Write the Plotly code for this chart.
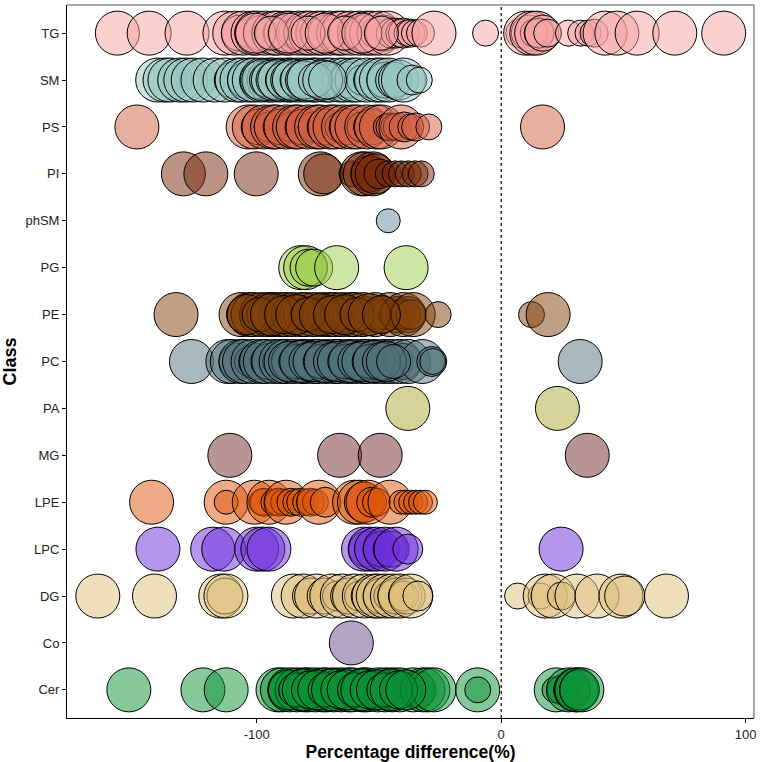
import plotly.graph_objects as go

# class order from bottom to top of the axis
classes = ["Cer", "Co", "DG", "LPC", "LPE", "MG", "PA", "PC", "PE", "PG", "phSM", "PI", "PS", "SM", "TG"]

# base fill colour per class (drawn at half alpha)
colors = {
    "TG": "#F5A1A1", "SM": "#97C5BF", "PS": "#D15F41", "PI": "#76280A",
    "phSM": "#658999", "PG": "#9BCD4B", "PE": "#813F09", "PC": "#517179",
    "PA": "#ABA731", "MG": "#71292B", "LPE": "#DD550B", "LPC": "#6B2DD9",
    "DG": "#DDBF7B", "Co": "#67498D", "Cer": "#0B9135",
}

# percentage difference values and bubble sizes
tg_x = [-157, -144, -128.5, -113,
        -109, -107, -105.5, -103, -101.5, -100, -98, -96.5, -95, -93,
        -91.5, -90, -88, -86.5, -85, -83, -81.5, -80, -78, -76.5,
        -75, -73, -71.5, -70, -68, -66.5, -65, -63, -61.5, -60,
        -58, -56.5, -55, -53, -51.5, -50, -48, -46.5, -45,
        -43, -41.5, -40, -38.5, -37, -35.5, -33, -27.5, -6.4,
        8, 10, 11.5, 12.5, 13.5, 14.5, 15.5, 17, 19,
        27.5, 32.5, 35.5, 38, 42.5, 47.3, 55.6, 71, 91,
        -100.5, -94, -87, -79, -72, -64, -57, -49]
tg_s = [44, 44, 44, 44,
        44, 36, 44, 30, 44, 44, 36, 44, 30, 44,
        44, 36, 44, 44, 30, 44, 36, 44, 44, 30,
        44, 44, 36, 44, 30, 44, 44, 36, 44, 30,
        44, 36, 44, 44, 30, 44, 36, 44, 30,
        30, 28, 30, 26, 28, 26, 28, 44, 26,
        30, 44, 36, 44, 28, 44, 30, 36, 28,
        26, 26, 26, 28, 44, 44, 44, 44, 44,
        40, 34, 40, 34, 40, 34, 40, 34]

sm_x = [-140.5, -137.5, -135.5, -131.5, -129, -126, -122, -117,
        -113, -110, -108, -106, -104.5, -103, -101, -99.5, -98, -96.5,
        -95, -93.5, -92, -90.5, -89, -87.5, -86, -84.5, -83, -81.5,
        -80, -78.5, -77, -75.5, -74, -72, -70, -68, -66, -64,
        -62.5, -61, -59, -57, -55, -53, -51, -49, -47.5, -46,
        -44, -42, -40, -36.5, -33.5,
        -99, -97.5, -96, -94, -92.5, -91, -89.5, -88, -86.5, -85,
        -83.5, -82, -80.5, -79, -76, -73, -71]
sm_s = [44, 44, 44, 44, 44, 44, 44, 44,
        44, 36, 44, 44, 36, 44, 44, 30, 44, 36,
        44, 44, 30, 44, 36, 44, 44, 36, 44, 30,
        44, 36, 44, 44, 30, 44, 44, 36, 44, 44,
        36, 44, 44, 30, 44, 36, 44, 44, 36, 44,
        36, 40, 44, 30, 26,
        38, 42, 34, 40, 38, 42, 34, 40, 38, 42,
        34, 40, 38, 42, 34, 40, 38]

ps_x = [-149,
        -103.5, -101, -99, -97, -95, -93.5, -92, -90, -88, -86,
        -84.5, -83, -81, -79, -77, -75.5, -74, -72, -70, -68,
        -66, -64.5, -63, -61, -59, -57, -55, -53, -51, -49,
        -47, -45.5, -44, -42.5, -41, -39.7, -37, -35, -29.6,
        16.9]
ps_s = [44,
        44, 44, 36, 44, 30, 44, 44, 36, 44, 30,
        44, 44, 36, 44, 30, 44, 44, 36, 44, 44,
        30, 44, 36, 44, 44, 30, 44, 36, 44, 44,
        26, 28, 26, 28, 44, 30, 26, 28, 26,
        44]

pi_x = [-130, -120.8, -100.2, -74, -72.6, -61, -57, -55.6, -54, -52.5,
        -51.5, -50, -46.2, -43.4, -40.8, -38, -35.2, -32.7]
pi_s = [44, 44, 44, 44, 40, 26, 44, 44, 36, 44,
        40, 30, 26, 26, 26, 26, 26, 26]

phsm_x = [-46.2]
phsm_s = [24]

pg_x = [-82, -80, -78.8, -76.5, -67.3, -38.9]
pg_s = [44, 44, 37, 37, 44, 44]

pe_x = [-133,
        -106.4, -105, -103, -101.5, -100, -98, -96.5, -95, -93, -91.5,
        -90, -88, -86.5, -85, -83, -81.5, -80, -78, -76.5, -75,
        -73, -71.5, -70, -68, -66.5, -65, -63, -61.5, -60, -58,
        -56.5, -55, -53, -51.5, -50, -48.5, -47, -45.5, -44, -42.5,
        -41, -40, -39, -38, -37, -36,
        -25.8, 12.4, 19.2,
        -104, -99, -94, -89, -84, -79, -74, -69, -64, -59, -54, -49]
pe_s = [44,
        44, 36, 44, 44, 30, 44, 36, 44, 44, 30,
        44, 44, 36, 44, 30, 44, 44, 36, 44, 30,
        44, 36, 44, 44, 30, 44, 36, 44, 44, 30,
        44, 36, 30, 44, 30, 36, 30, 44, 30, 36,
        30, 44, 30, 36, 30, 44,
        26, 26, 44,
        40, 34, 42, 38, 40, 34, 42, 38, 40, 34, 42, 38]

pc_x = [-126.7,
        -111.8, -110, -108, -106.5, -105, -103, -101.5, -100, -98, -96.5,
        -95, -93, -91.5, -90, -88, -86.5, -85, -83, -81.5, -80,
        -78, -76.5, -75, -73, -71.5, -70, -68, -66.5, -65, -63,
        -61.5, -60, -58, -56.5, -55, -53, -51.5, -50, -48, -46.5,
        -45, -43, -41.5, -40, -38,
        -32.3, -28.4, -28, 32.3,
        -87, -84, -82, -79, -77, -74, -72, -69, -67, -64,
        -62, -59, -57, -54, -52, -49, -47, -44]
pc_s = [44,
        44, 44, 36, 44, 44, 30, 44, 36, 44, 44,
        36, 44, 30, 44, 44, 36, 44, 30, 44, 44,
        36, 44, 44, 30, 44, 36, 44, 44, 30, 44,
        36, 44, 30, 44, 44, 36, 44, 30, 44, 36,
        44, 30, 44, 36, 44,
        44, 30, 26, 44,
        40, 34, 42, 38, 40, 34, 42, 38, 40, 34,
        42, 38, 40, 34, 42, 38, 40, 34]

pa_x = [-38.2, 23]
pa_s = [44, 44]

mg_x = [-111, -66.1, -49.5, 35.2]
mg_s = [44, 44, 44, 44]

lpe_x = [-143, -112.5, -112.5, -101, -98, -97, -95, -93, -91, -89,
         -88, -86, -84, -82, -80, -78, -76, -74.6, -72, -60,
         -58, -56, -54.5, -53, -51, -45.5, -41, -39, -37, -35,
         -33, -31]
lpe_s = [44, 44, 24, 44, 26, 28, 44, 26, 28, 26,
         44, 28, 26, 28, 26, 28, 26, 44, 30, 44,
         44, 40, 44, 30, 28, 44, 24, 24, 24, 24,
         24, 24]

lpc_x = [-140.4, -118, -113.5, -100, -97.5, -95, -56.3, -55, -53.6, -51,
         -49, -47.5, -45, -43, -38.2, 24.5]
lpc_s = [44, 44, 44, 44, 44, 44, 44, 36, 44, 44,
         36, 44, 36, 44, 30, 44]

dg_x = [-165, -141.8, -114.7, -113, -112.6,
        -85, -81, -78, -75.5, -72, -69.3, -67, -65, -62.4, -60,
        -58, -56, -54, -52, -50.3, -49, -47.5, -46, -44.5, -43,
        -41.5, -40, -38.5, -37, -34.1,
        6.7, 16.3, 18, 21.3, 24.6, 31, 39.2, 49, 50.5, 67.6]
dg_s = [44, 44, 44, 36, 44,
        44, 44, 36, 44, 36, 44, 30, 44, 36, 44,
        30, 44, 36, 44, 44, 36, 44, 30, 44, 36,
        44, 30, 36, 44, 30,
        26, 26, 44, 44, 28, 44, 44, 44, 40, 44]

co_x = [-61.3]
co_s = [44]

cer_x = [-152.3, -122, -112.5,
         -91.3, -89.5, -88, -86.5, -85, -83.5, -82, -80.5, -79, -77.5,
         -76, -74.5, -73, -71.5, -70, -68.5, -67, -65.5, -64, -62.5,
         -61, -59.5, -58, -56.5, -55, -53.5, -52, -50.5, -49, -47.5,
         -46, -44.5, -43, -41.5, -40, -38, -36, -34, -32, -30,
         -27.5,
         -9.6, -9.6,
         22.5, 22, 25, 27.5, 29, 30.5, 31, 32, 33,
         -87, -84, -81, -78, -75, -72, -69, -66, -63, -60,
         -57, -54, -51, -48, -45, -42, -39]
cer_s = [44, 44, 44,
         44, 44, 36, 44, 30, 44, 36, 44, 44, 30,
         44, 36, 44, 44, 30, 44, 36, 44, 30, 44,
         44, 36, 30, 44, 44, 30, 36, 44, 30, 44,
         36, 44, 30, 44, 36, 30, 44, 36, 44, 44,
         44,
         44, 26,
         44, 26, 30, 44, 36, 44, 44, 40, 44,
         40, 34, 42, 38, 40, 34, 42, 38, 40, 34,
         42, 38, 40, 34, 42, 38, 40]

series = {
    "TG": (tg_x, tg_s), "SM": (sm_x, sm_s), "PS": (ps_x, ps_s), "PI": (pi_x, pi_s),
    "phSM": (phsm_x, phsm_s), "PG": (pg_x, pg_s), "PE": (pe_x, pe_s), "PC": (pc_x, pc_s),
    "PA": (pa_x, pa_s), "MG": (mg_x, mg_s), "LPE": (lpe_x, lpe_s), "LPC": (lpc_x, lpc_s),
    "DG": (dg_x, dg_s), "Co": (co_x, co_s), "Cer": (cer_x, cer_s),
}


def rgba(hexcol, a):
    h = hexcol.lstrip("#")
    return "rgba(%d,%d,%d,%s)" % (int(h[0:2], 16), int(h[2:4], 16), int(h[4:6], 16), a)


fig = go.Figure()
for name in classes[::-1]:
    xs, ss = series[name]
    assert len(xs) == len(ss), name
    # opacity=1 so plotly's bubble default (0.7) doesn't grey the outlines
    fig.add_trace(go.Scatter(
        x=xs, y=[name] * len(xs), mode="markers", name=name,
        marker=dict(size=ss, sizemode="diameter", opacity=1,
                    color=rgba(colors[name], 0.5),
                    line=dict(color="black", width=1)),
        showlegend=False,
    ))

# dotted reference line at zero
fig.add_shape(type="line", x0=0, x1=0, y0=0, y1=1, xref="x", yref="paper",
              line=dict(color="black", width=1.2, dash="dot"))
# grey top/right panel border
fig.add_shape(type="line", x0=0, x1=1, y0=1, y1=1, xref="paper", yref="paper",
              line=dict(color="#8a8a8a", width=1.5))
fig.add_shape(type="line", x0=1, x1=1, y0=0, y1=1, xref="paper", yref="paper",
              line=dict(color="#8a8a8a", width=1.5))

fig.update_layout(
    width=762, height=762,
    margin=dict(l=67, r=5, t=5, b=44),
    plot_bgcolor="white", paper_bgcolor="white",
    font=dict(family="Liberation Sans, Arial, sans-serif", size=13, color="#222"),
    xaxis=dict(range=[-177.6, 103.4], tickvals=[-100, 0, 100], ticktext=["-100", "0", "100"],
               showgrid=False, zeroline=False, showline=True, linecolor="black", linewidth=1,
               ticks="outside", ticklen=4, tickcolor="black",
               title=dict(text="<b>Percentage difference(%)</b>", font=dict(size=17.5, color="black"), standoff=3)),
    yaxis=dict(type="category", categoryorder="array", categoryarray=classes,
               range=[-0.6, 14.6], showgrid=False, zeroline=False, showline=True,
               linecolor="black", linewidth=1, ticks="outside", ticklen=4, tickcolor="black",
               title=dict(text="<b>Class</b>", font=dict(size=18, color="black"), standoff=6)),
)

# drop the default page margin so the figure fills the window
fig.write_html("out.html", config={"displayModeBar": False},
               post_script="document.body.style.margin='0';")
